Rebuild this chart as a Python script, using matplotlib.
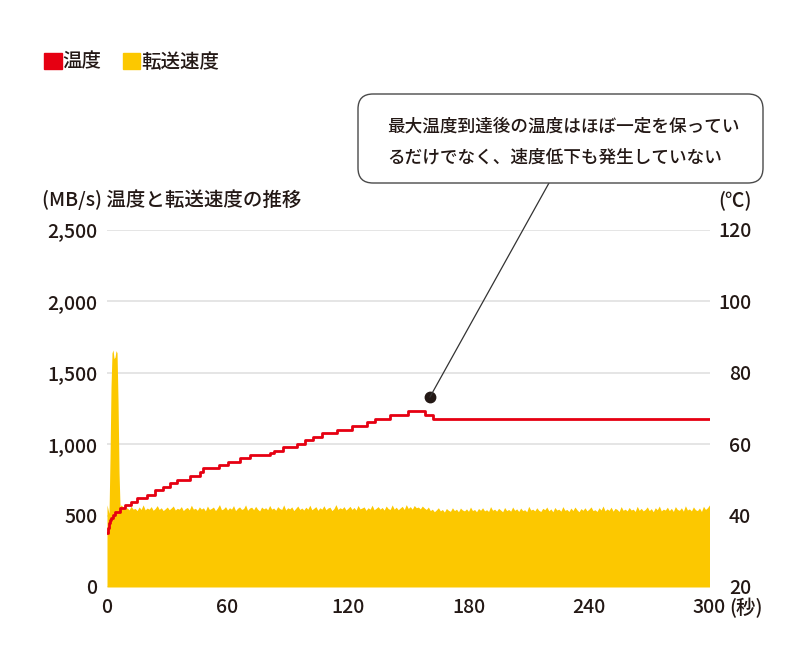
import matplotlib
matplotlib.use('Agg')
import matplotlib.pyplot as plt
from matplotlib.patches import Patch, FancyBboxPatch, ConnectionPatch

plt.rcParams['font.family'] = ['Noto Sans CJK JP', 'DejaVu Sans']
plt.rcParams['font.weight'] = 'medium'

#### data
# transfer speed (MB/s): half-second samples over the initial burst, then one per second
speed_t = [0, 0.5, 1, 1.5, 2, 2.5, 3, 3.5, 4, 4.5, 5, 5.5, 6, 6.5, 7] + list(range(8, 301))
speed = [
    575, 545, 515, 900, 1400, 1640, 1660, 1600, 1610, 1655, 1640, 1300, 800, 560, 575,
    560, 545, 555, 540, 565, 545, 550, 535, 560, 543, 575, 540,
    553, 545, 563, 537, 550, 570, 543, 555, 535, 547, 560, 541, 553, 567, 539, 551, 545, 563, 535, 549,
    557, 540, 573, 545, 551, 537, 561, 545, 555, 533, 567, 543, 550, 560, 535, 553, 577, 541, 547, 563,
    539, 555, 545, 570, 535, 551, 561, 543, 549, 575, 537, 553, 559, 541, 565, 545, 533, 560, 547, 555,
    541, 571, 545, 553, 537, 563, 549, 543, 575, 539, 555, 547, 561, 535, 551, 567, 543, 553, 539, 559,
    545, 573, 541, 551, 563, 537, 555, 545, 569, 541, 553, 559, 535, 549, 577, 543, 555, 547, 563, 539,
    551, 565, 543, 557, 539, 571, 547, 553, 561, 537, 555, 545, 573, 541, 551, 563, 545, 557, 539, 567,
    549, 543, 575, 545, 559, 541, 553, 565, 543, 577, 550, 563, 545, 571, 555, 560, 547, 567, 553, 543,
    560, 535, 545, 527, 540, 555, 533, 543, 525, 550, 537, 530, 555, 535, 545, 527, 553, 539, 533, 547,
    530, 560, 535, 543, 527, 550, 537, 555, 533, 541, 529, 563, 537, 545, 531, 551, 539, 527, 557, 535,
    543, 531, 560, 537, 547, 529, 553, 535, 541, 527, 565, 539, 545, 533, 555, 537, 529, 551, 541, 560,
    533, 547, 527, 557, 539, 545, 531, 563, 537, 543, 529, 553, 535, 560, 541, 527, 549, 537, 555, 533,
    545, 561, 535, 541, 529, 555, 539, 567, 533, 547, 537, 559, 531, 551, 543, 529, 563, 537, 545, 533,
    557, 539, 545, 529, 565, 537, 551, 533, 543, 561, 535, 549, 527, 555, 541, 567, 533, 545, 539, 559,
    535, 551, 529, 563, 543, 537, 555, 531, 569, 539, 547, 533, 561, 541, 535, 553, 529, 565, 543, 555,
    575,
]

# temperature (deg C), step changes
temp_t = [0, 0.5, 1, 1.5, 2, 3, 4, 6.5, 9, 12, 15, 20, 24, 28, 31.5, 35, 41.5, 46.5, 48, 56, 60,
          66, 71, 81, 83, 87.8, 94.5, 98.7, 102.8, 107, 114.5, 122, 129.4, 133.5, 141, 150,
          158.4, 162.5, 300]
temp = [35.1, 36.6, 37.9, 38.8, 39.4, 40.2, 41.0, 42.2, 43.0, 43.9, 44.9, 45.8, 47.2, 48.1, 49.2,
        50.0, 51.0, 52.1, 53.2, 54.2, 55.1, 56.2, 57.1, 57.6, 58.2, 59.1, 60.1, 61.1, 62.0, 63.1,
        64.1, 65.2, 66.1, 67.1, 68.3, 69.2, 68.3, 67.1, 67.1]

xticks = [0, 60, 120, 180, 240, 300]
yticks_l = [0, 500, 1000, 1500, 2000, 2500]
yticks_r = [20, 40, 60, 80, 100, 120]

RED = '#e60012'
YEL = '#fcc800'
TXT = '#231815'

#### figure
fig = plt.figure(figsize=(8, 6.63), dpi=100)
ax = fig.add_axes([107/800, 1-587/663, (709.5-107)/800, (587-230)/663])
ax2 = ax.twinx()

ax.fill_between(speed_t, 0, speed, color=YEL, lw=0, zorder=2)
ax.set_xlim(0, 300)
ax.set_ylim(0, 2500)
ax.set_xticks(xticks)
ax.set_yticks(yticks_l)
ax.set_yticklabels(['{:,}'.format(v) for v in yticks_l])
ax.grid(axis='y', color='#dedede', lw=1.1)
ax.set_axisbelow(True)

ax2.step(temp_t, temp, where='post', color=RED, lw=2.0, zorder=3)
ax2.set_ylim(20, 120)
ax2.set_yticks(yticks_r)

for a in (ax, ax2):
    for s in a.spines.values():
        s.set_visible(False)
    a.tick_params(length=0, labelsize=14, labelcolor=TXT)
ax.tick_params(axis='y', pad=7)
ax.tick_params(axis='x', pad=8)
ax2.tick_params(axis='y', pad=30)
for lab in ax2.get_yticklabels():
    lab.set_horizontalalignment('right')

ax.annotate('(秒)', xy=(300, 0), xycoords=('data', 'axes fraction'),
            xytext=(14.5, -8), textcoords='offset points', ha='left', va='top',
            fontsize=14, color=TXT)

#### texts
fig.text(42/800, 1-200/663, '(MB/s) 温度と転送速度の推移', fontsize=14, color=TXT, va='center')
fig.text(752/800, 1-200/663, '(℃)', fontsize=14, color=TXT, va='center', ha='right')

handles = [Patch(color=RED), Patch(color=YEL)]
fig.legend(handles, ['温度', '転送速度'], loc='center left',
           bbox_to_anchor=(44/800, 1-62/663), ncol=2, frameon=False,
           fontsize=14, handlelength=0.9, handleheight=0.9, handletextpad=0.05,
           columnspacing=1.1, borderpad=0, borderaxespad=0, labelcolor=TXT)

#### callout
ov = fig.add_axes([0, 0, 1, 1], zorder=5)
ov.set_xlim(0, 800)
ov.set_ylim(663, 0)
ov.axis('off')
box = FancyBboxPatch((358, 94), 405, 89, boxstyle='round,pad=0,rounding_size=15',
                     fc='white', ec='#4a4a4a', lw=1.0)
ov.add_patch(box)
ov.text(387, 126, '最大温度到達後の温度はほぼ一定を保ってい', fontsize=12.7, color=TXT, va='center')
ov.text(387, 158, 'るだけでなく、速度低下も発生していない', fontsize=12.7, color=TXT, va='center')

dot_t, dot_v = 160.8, 73.2
ax2.plot([dot_t], [dot_v], 'o', color=TXT, ms=7.5, zorder=6, clip_on=False)
con = ConnectionPatch(xyA=(549, 183), coordsA=ov.transData,
                      xyB=(dot_t, dot_v), coordsB=ax2.transData,
                      color='#333333', lw=0.9)
fig.add_artist(con)

fig.savefig('out.png', dpi=100)
